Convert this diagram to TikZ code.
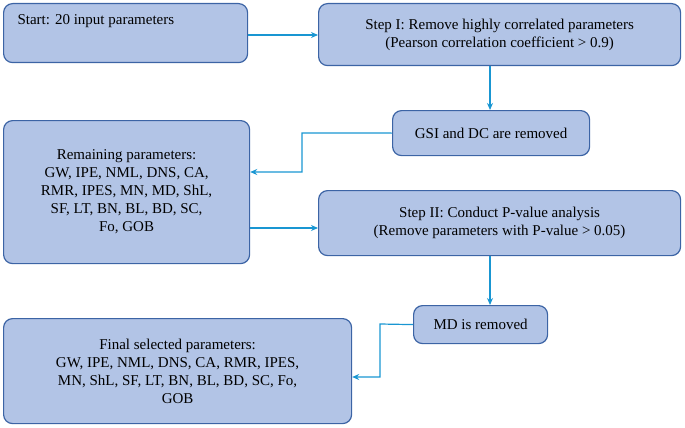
\documentclass[tikz,border=0pt]{standalone}
\usepackage{fontspec}
\setmainfont{Liberation Serif}
\usetikzlibrary{arrows.meta}
\definecolor{boxfill}{RGB}{178,196,230}
\definecolor{boxline}{RGB}{60,100,165}
\definecolor{arr}{RGB}{25,150,210}
\begin{document}
\begin{tikzpicture}[x=1pt,y=-1pt,
  box/.style={draw=boxline,fill=boxfill,line width=1.2pt,rounded corners=9pt,align=center,font=\fontsize{15}{18}\selectfont},
  con/.style={draw=arr,line width=1.2pt,-{Stealth[length=7pt,width=6pt]}}]
\useasboundingbox (0,0) rectangle (685,428);
\node[box,minimum width=244,minimum height=59,anchor=north west] (s) at (3,3) {};
\node[font=\fontsize{15}{18}\selectfont,anchor=west] (st) at (14,21) {Start: 20 input parameters};
\node[box,minimum width=362,minimum height=62,anchor=north west] (s1) at (318,3) {Step I: Remove highly correlated parameters\\(Pearson correlation coefficient > 0.9)};
\node[box,minimum width=197,minimum height=45,anchor=north west] (g) at (392,110) {GSI and DC are removed};
\node[box,minimum width=246,minimum height=143,anchor=north west] (r) at (3,120) {Remaining parameters:\\GW, IPE, NML, DNS, CA,\\RMR, IPES, MN, MD, ShL,\\SF, LT, BN, BL, BD, SC,\\Fo, GOB};
\node[box,minimum width=362,minimum height=65,anchor=north west] (s2) at (318,190) {Step II: Conduct P-value analysis\\(Remove parameters with P-value > 0.05)};
\node[box,minimum width=134,minimum height=38,anchor=north west] (m) at (413,305) {MD is removed};
\node[box,minimum width=348,minimum height=105,anchor=north west] (f) at (3,318) {Final selected parameters:\\GW, IPE, NML, DNS, CA, RMR, IPES,\\MN, ShL, SF, LT, BN, BL, BD, SC, Fo,\\GOB};
\draw[con] (s.east|-0,35) -- (s1.west|-0,35);
\draw[con] (s1.south-|490,0) -- (g.north-|490,0);
\draw[con] (g.west) -- (302,133) -- (302,172) -- (r.east|-0,172);
\draw[con] (r.east|-0,228) -- (s2.west|-0,228);
\draw[con,line width=2pt] (s2.south-|490,0) -- (m.north-|490,0);
\draw[con] (m.west) -- (380,324) -- (380,377) -- (f.east|-0,377);
\end{tikzpicture}
\end{document}
